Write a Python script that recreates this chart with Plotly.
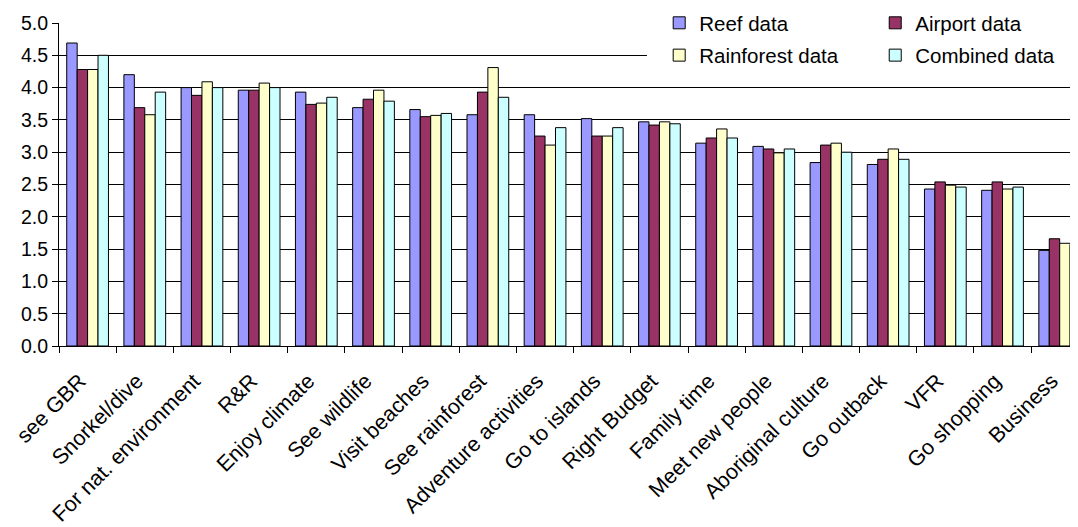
import plotly.graph_objects as go

categories = ["see GBR", "Snorkel/dive", "For nat. environment", "R&R", "Enjoy climate",
              "See wildlife", "Visit beaches", "See rainforest", "Adventure activities",
              "Go to islands", "Right Budget", "Family time", "Meet new people",
              "Aboriginal culture", "Go outback", "VFR", "Go shopping", "Business"]

reef_data = [4.69, 4.20, 4.00, 3.96, 3.93, 3.69, 3.66, 3.58, 3.58, 3.52, 3.47, 3.14, 3.09,
             2.84, 2.81, 2.43, 2.41, 1.48]
airport_data = [4.28, 3.69, 3.88, 3.96, 3.74, 3.82, 3.55, 3.93, 3.25, 3.25, 3.42, 3.22, 3.05,
                3.11, 2.89, 2.54, 2.54, 1.66]
rainforest_data = [4.28, 3.58, 4.09, 4.07, 3.76, 3.96, 3.57, 4.31, 3.11, 3.25, 3.47, 3.36, 2.99,
                   3.14, 3.05, 2.49, 2.43, 1.59]
combined_data = [4.50, 3.93, 4.00, 4.00, 3.85, 3.79, 3.60, 3.85, 3.38, 3.38, 3.44, 3.22, 3.05,
                 3.00, 2.89, 2.46, 2.46, 1.56]

series_names = ["Reef data", "Airport data", "Rainforest data", "Combined data"]
series_values = [reef_data, airport_data, rainforest_data, combined_data]
series_colors = ["#9999FF", "#993366", "#FFFFCC", "#CCFFFF"]
legend_ids = ["legend", "legend2", "legend3", "legend4"]

y_ticks = [0.0, 0.5, 1.0, 1.5, 2.0, 2.5, 3.0, 3.5, 4.0, 4.5, 5.0]

FONT = "Liberation Sans, Arial, sans-serif"

fig = go.Figure()
for name, vals, col, lg in zip(series_names, series_values, series_colors, legend_ids):
    fig.add_trace(go.Bar(
        x=categories, y=vals, name=name, legend=lg,
        marker=dict(color=col, line=dict(color="black", width=1)),
    ))

legend_common = dict(xanchor="left", yanchor="middle", bgcolor="rgba(0,0,0,0)",
                     borderwidth=0, font=dict(family=FONT, size=20.5, color="black"))
# legend positions (plot-area fractions): two columns, two rows
leg_x = [0.589, 0.801, 0.589, 0.801]
leg_y = [1.0, 1.0, 0.9, 0.9]
legend_layout = {}
for lg, lx, ly in zip(legend_ids, leg_x, leg_y):
    legend_layout[lg] = dict(x=lx, y=ly, **legend_common)

# the page body adds an 8px offset, so the figure is 8px smaller and margins shifted
fig.update_layout(
    width=1070, height=519,
    margin=dict(l=51, r=0, t=15, b=181, pad=0, autoexpand=False),
    paper_bgcolor="white", plot_bgcolor="white",
    barmode="group", bargap=0.27, bargroupgap=0,
    font=dict(family=FONT, size=19, color="black"),
    showlegend=True,
    **legend_layout,
    shapes=[dict(type="rect", xref="paper", yref="paper", x0=0.577, x1=1.0, y0=0.84, y1=1.08,
                 fillcolor="white", line=dict(width=0), layer="above")],
    xaxis=dict(
        type="category", range=[-0.5, 17.32], automargin=False,
        showline=True, linecolor="black", linewidth=1,
        ticks="outside", tickson="boundaries", ticklen=6, tickcolor="black",
        tickangle=-45, tickfont=dict(family=FONT, size=21.5, color="black"),
        ticklabelstandoff=13, ticklabelshift=-8,
        showgrid=False,
    ),
    yaxis=dict(
        range=[0, 5.0], tickvals=y_ticks, ticktext=[f"{v:.1f}" for v in y_ticks],
        automargin=False,
        showline=True, linecolor="black", linewidth=1,
        ticks="outside", ticklen=6, tickcolor="black",
        showgrid=True, gridcolor="black", gridwidth=1,
        tickfont=dict(family=FONT, size=19.5, color="black"),
        zeroline=False,
    ),
)

fig.write_html("out.html")
